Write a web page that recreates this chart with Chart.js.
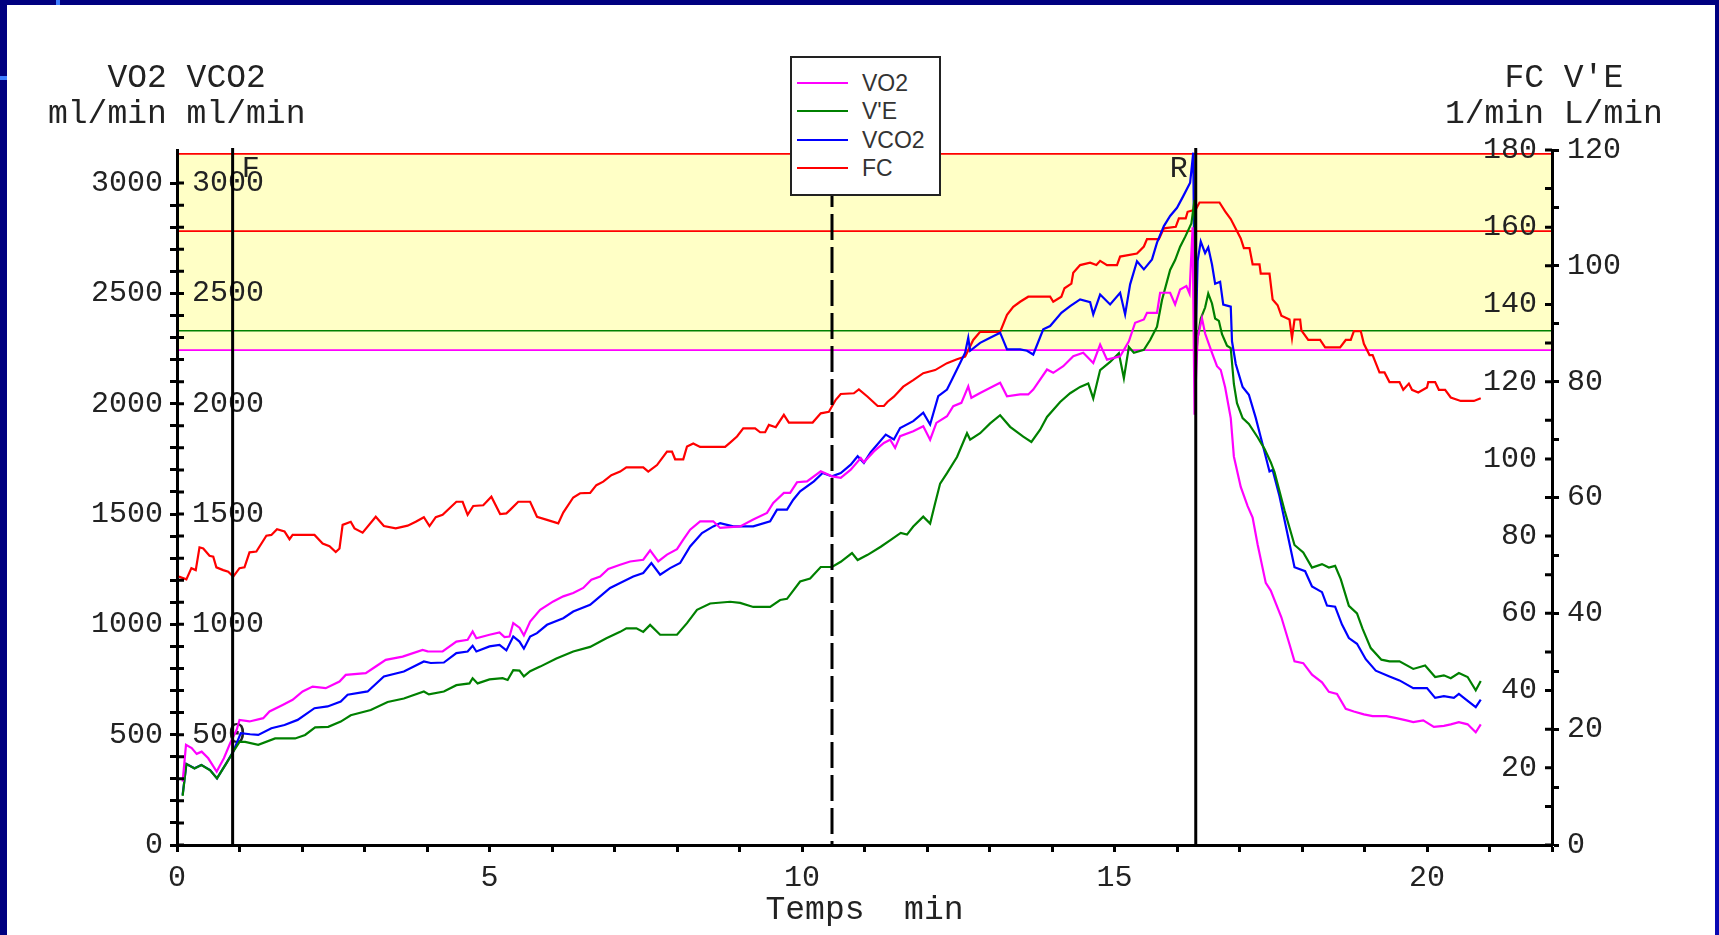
<!DOCTYPE html>
<html lang="fr">
<head>
  <meta charset="UTF-8">
  <title>VO2 VCO2 V'E FC</title>
  <script src="https://cdn.jsdelivr.net/npm/chart.js"></script>
  <style>
    body { margin: 0; width: 1719px; height: 935px; overflow: hidden; background: #000080; position: relative; }
    #panel { position: absolute; left: 7px; top: 5px; width: 1708px; height: 930px; background: #fff; }
    #edge { position: absolute; left: 1715px; top: 0; width: 4px; height: 935px; background: linear-gradient(#000080, #0a0ab4); }
    .blip { position: absolute; background: #3d7dff; }
    #chart { position: absolute; left: 0; top: 0; }
    .ttl { position: absolute; white-space: pre; font: 33px 'Liberation Mono', monospace; line-height: 36px; color: #222; }
    #legend { position: absolute; left: 790px; top: 56px; width: 151px; height: 140px; box-sizing: border-box;
              border: 2px solid #222; background: #fff; }
    #legend .ln { position: absolute; left: 5px; width: 51px; height: 2px; }
    #legend .tx { position: absolute; left: 70px; font: 23px 'Liberation Sans', Arial, sans-serif; line-height: 28px; color: #333; }
  </style>
</head>
<body>
  <div id="panel"></div>
  <div id="edge"></div>
  <div class="blip" style="left:56px;top:0;width:4px;height:5px"></div>
  <div class="blip" style="left:0;top:76px;width:7px;height:4px"></div>
  <canvas id="chart" width="1719" height="935"></canvas>
  <div class="ttl" style="left:48px;top:61px">   VO2 VCO2
ml/min ml/min</div>
  <div class="ttl" style="left:1445px;top:61px">   FC V'E
1/min L/min</div>
  <div id="legend"></div>

  <script>
    // Temps (min) et valeurs de chaque courbe
    const tVO2 = [0.09,0.144,0.235,0.315,0.395,0.5,0.635,0.75,0.85,0.955,1.0,1.16,1.38,1.48,1.69,1.85,2.01,2.17,2.38,2.6,2.7,3.02,3.18,3.34,3.61,3.93,4.01,4.25,4.47,4.65,4.73,4.79,5.0,5.16,5.24,5.32,5.38,5.48,5.55,5.65,5.81,6.02,6.18,6.34,6.5,6.63,6.77,6.9,7.09,7.25,7.46,7.57,7.7,7.84,8.0,8.1,8.21,8.37,8.58,8.69,9.01,9.22,9.44,9.54,9.71,9.81,9.92,10.08,10.3,10.48,10.62,10.78,10.94,10.99,11.15,11.31,11.41,11.49,11.57,11.78,11.94,12.05,12.15,12.32,12.42,12.55,12.66,12.71,12.85,13.06,13.17,13.28,13.49,13.62,13.7,13.92,14.02,14.18,14.34,14.5,14.66,14.77,14.88,15.09,15.23,15.33,15.47,15.52,15.68,15.73,15.89,15.97,16.05,16.15,16.2,16.25,16.28,16.33,16.4,16.45,16.56,16.64,16.7,16.77,16.86,16.91,17.02,17.13,17.21,17.29,17.42,17.5,17.67,17.8,17.88,18.02,18.16,18.32,18.43,18.56,18.7,18.83,18.99,19.13,19.35,19.51,19.67,19.78,19.94,20.11,20.27,20.38,20.51,20.65,20.78,20.86];
    const vo2 = [287,454,439,413,423,393,333,393,461,522,567,560,575,605,635,658,696,718,711,741,771,779,809,839,854,884,878,877,922,930,968,937,953,963,942,945,1006,985,950,1013,1066,1104,1127,1142,1165,1202,1217,1251,1270,1285,1293,1335,1285,1316,1341,1384,1429,1467,1467,1437,1444,1475,1505,1550,1596,1596,1644,1648,1694,1671,1664,1701,1754,1735,1784,1822,1837,1800,1853,1875,1898,1837,1913,1943,1989,2004,2079,2027,2049,2079,2095,2034,2042,2042,2064,2155,2140,2170,2215,2231,2185,2268,2200,2215,2283,2367,2382,2412,2412,2503,2503,2450,2518,2533,2500,2800,1950,2300,2387,2318,2231,2170,2153,2075,1935,1761,1623,1536,1484,1362,1188,1153,1032,910,833,824,772,737,694,685,617,605,592,584,584,575,565,557,565,535,540,547,557,547,511,547];

    const tVCO2 = [0.09,0.15,0.28,0.39,0.53,0.64,0.79,0.9,1.02,1.17,1.3,1.51,1.72,1.93,2.2,2.41,2.62,2.73,3.05,3.31,3.63,3.95,4.06,4.27,4.47,4.65,4.73,4.79,5.0,5.16,5.27,5.38,5.48,5.55,5.65,5.76,5.92,6.18,6.34,6.61,6.77,6.93,7.09,7.3,7.46,7.59,7.73,7.89,8.05,8.21,8.4,8.58,8.69,8.9,9.22,9.49,9.6,9.76,9.86,9.97,10.19,10.33,10.48,10.62,10.78,10.89,10.99,11.1,11.34,11.47,11.57,11.78,11.94,12.05,12.18,12.32,12.4,12.53,12.61,12.66,12.69,12.85,13.01,13.17,13.28,13.49,13.6,13.7,13.86,13.97,14.15,14.29,14.45,14.61,14.66,14.77,14.93,15.09,15.17,15.25,15.36,15.47,15.6,15.68,15.79,15.89,16.0,16.1,16.21,16.26,16.29,16.33,16.38,16.45,16.5,16.56,16.61,16.69,16.74,16.86,16.88,16.94,17.05,17.15,17.26,17.37,17.48,17.53,17.64,17.75,17.88,18.05,18.16,18.32,18.4,18.53,18.64,18.75,18.88,19.02,19.18,19.4,19.56,19.78,20.0,20.13,20.27,20.43,20.51,20.62,20.78,20.86];
    const vco2 = [227,367,348,363,340,302,371,423,507,502,499,529,544,567,620,628,650,681,696,764,786,832,825,827,870,877,903,877,900,907,882,945,922,890,945,960,998,1028,1058,1089,1127,1165,1187,1217,1233,1278,1225,1255,1278,1353,1414,1444,1459,1444,1444,1467,1520,1520,1565,1603,1648,1686,1671,1686,1724,1762,1732,1780,1860,1838,1890,1921,1959,1906,2034,2064,2110,2185,2231,2299,2240,2276,2299,2322,2246,2246,2240,2223,2337,2352,2412,2442,2473,2460,2405,2495,2450,2503,2405,2541,2646,2609,2654,2730,2805,2851,2888,2941,3002,3138,2195,2648,2735,2683,2709,2631,2544,2553,2449,2440,2283,2180,2076,2041,1936,1815,1693,1700,1581,1433,1259,1241,1172,1146,1085,1080,999,938,912,842,790,764,746,711,711,667,675,667,685,660,625,659];

    const tVE = [0.09,0.15,0.28,0.39,0.53,0.64,0.79,0.9,1.0,1.09,1.3,1.57,1.89,2.05,2.21,2.42,2.62,2.78,3.1,3.37,3.63,3.95,4.03,4.27,4.47,4.68,4.73,4.81,5.0,5.21,5.29,5.38,5.48,5.55,5.65,5.81,6.07,6.34,6.61,6.87,7.09,7.19,7.35,7.46,7.57,7.73,8.0,8.16,8.32,8.53,8.85,9.01,9.22,9.49,9.65,9.76,9.97,10.13,10.3,10.48,10.62,10.8,10.89,11.05,11.26,11.42,11.58,11.68,11.78,11.94,12.05,12.13,12.21,12.32,12.48,12.64,12.69,12.85,13.01,13.17,13.33,13.54,13.67,13.81,13.92,14.13,14.29,14.45,14.58,14.66,14.77,14.93,15.07,15.15,15.23,15.31,15.47,15.57,15.68,15.76,15.89,15.97,16.05,16.13,16.23,16.28,16.31,16.33,16.38,16.45,16.5,16.56,16.61,16.67,16.72,16.8,16.86,16.91,16.96,17.05,17.15,17.29,17.4,17.5,17.56,17.72,17.88,18.02,18.16,18.32,18.43,18.53,18.62,18.75,18.88,18.97,19.1,19.27,19.4,19.56,19.78,19.97,20.13,20.27,20.38,20.51,20.65,20.78,20.86];
    const ve = [8.5,14.0,13.2,13.8,12.9,11.5,14.1,16.1,17.8,17.8,17.3,18.4,18.4,19.0,20.3,20.4,21.3,22.4,23.3,24.7,25.3,26.5,26.0,26.5,27.6,27.9,28.8,27.9,28.6,28.8,28.5,30.2,30.1,29.1,30.0,30.8,32.2,33.4,34.2,35.7,36.8,37.4,37.4,36.8,38.0,36.3,36.3,38.3,40.6,41.7,42.0,41.8,41.1,41.1,42.3,42.5,45.5,46.0,48.0,48.0,48.9,50.4,49.2,50.1,51.5,52.7,53.9,53.6,55.0,56.7,55.5,59.0,62.4,64.2,67.0,71.1,70.0,71.1,72.8,74.2,72.2,70.5,69.6,71.7,73.9,76.5,78.0,79.1,79.7,77.1,82.0,83.4,84.9,80.6,86.0,85.0,85.5,87.2,89.5,94.1,99.3,101.0,103.3,105.0,107.3,111.4,85.0,87.5,90.9,92.8,95.2,93.5,90.9,90.5,88.2,86.2,85.8,79.6,76.3,73.7,72.7,70.4,68.4,66.1,64.4,57.8,51.8,50.5,47.9,48.5,47.9,48.2,45.9,41.3,40.0,37.3,34.0,32.0,31.7,31.7,30.4,31.0,29.0,29.3,28.8,29.7,29.0,26.7,28.3];

    const tFC = [0.03,0.15,0.23,0.3,0.36,0.42,0.52,0.58,0.63,0.74,0.82,0.9,1.0,1.08,1.16,1.27,1.43,1.51,1.6,1.72,1.8,1.85,2.2,2.33,2.44,2.54,2.6,2.65,2.78,2.84,2.97,3.18,3.31,3.5,3.69,3.82,3.95,4.04,4.14,4.25,4.47,4.57,4.65,4.74,4.9,5.03,5.17,5.27,5.33,5.46,5.65,5.76,5.92,6.1,6.18,6.34,6.45,6.61,6.71,6.82,6.95,7.09,7.19,7.46,7.54,7.68,7.84,7.92,7.97,8.1,8.16,8.26,8.37,8.77,8.85,8.96,9.06,9.25,9.33,9.41,9.47,9.58,9.71,9.79,10.17,10.3,10.43,10.54,10.62,10.83,10.91,11.05,11.21,11.31,11.37,11.47,11.62,11.78,11.94,12.13,12.32,12.48,12.61,12.74,12.85,13.17,13.28,13.38,13.49,13.62,13.97,14.02,14.15,14.2,14.31,14.34,14.45,14.61,14.71,14.77,14.88,15.04,15.09,15.36,15.47,15.52,15.71,15.79,15.98,16.03,16.14,16.17,16.3,16.36,16.68,16.77,16.86,16.94,17.02,17.07,17.16,17.21,17.32,17.34,17.48,17.53,17.61,17.67,17.8,17.84,17.88,17.97,17.99,18.1,18.29,18.37,18.61,18.7,18.78,18.83,18.94,18.99,19.08,19.13,19.24,19.32,19.4,19.56,19.62,19.71,19.76,19.86,20.0,20.02,20.13,20.19,20.29,20.38,20.54,20.75,20.86];
    const fc = [69.5,68.8,71.7,71.2,77.1,76.8,74.9,74.7,71.9,71.2,70.8,69.5,71.7,71.9,75.8,76.0,80.1,80.3,81.8,81.2,79.2,80.3,80.3,78.1,77.4,75.9,76.8,82.9,83.7,82.0,80.9,85.0,82.6,82.0,82.7,83.7,84.9,82.6,84.9,85.5,88.9,88.9,85.5,87.8,88.0,90.2,85.7,85.9,86.8,88.9,88.9,85.0,84.2,83.3,86.1,90.0,91.1,91.2,93.2,94.1,95.8,96.7,97.8,97.8,96.7,98.4,101.9,101.9,99.9,99.9,103.2,104.0,103.1,103.1,104.2,105.8,107.9,107.9,106.9,106.9,108.8,108.2,111.4,109.4,109.4,111.8,112.2,115.3,116.8,117.0,118.0,116.1,113.7,113.7,114.8,116.1,118.7,120.4,122.2,123.0,124.8,125.8,126.5,130.8,132.9,132.9,137.3,139.4,140.7,142.0,142.0,140.7,142.0,144.2,145.4,148.2,150.2,150.8,150.2,151.3,150.2,150.2,152.4,153.2,155.0,156.9,156.9,159.7,160.1,162.3,162.3,164.0,164.6,166.4,166.4,164.1,162.1,159.6,157.1,154.6,154.6,150.4,150.4,148.0,148.0,141.3,139.8,137.1,136.1,131.3,136.1,136.1,133.3,130.8,130.8,128.9,128.9,130.8,130.8,133.1,133.1,129.8,126.9,126.9,122.4,122.4,119.9,119.9,117.9,119.5,117.9,117.2,118.5,119.9,119.9,117.9,117.9,115.9,115.0,115.0,115.7];

    // Seuils horizontaux et repères verticaux
    const fcLimits = [159, 179];
    const veLimit = 88.8;
    const vo2Limit = 2243;
    const markerTimes = [0.89, 10.48, 16.3];
    const markerLabels = ['F', '', 'R'];

    const seriesNames = ['VO2', "V'E", 'VCO2', 'FC'];
    const seriesColors = ['#ff00ff', '#008000', '#0000ff', '#ff0000'];

    const mono = 'Liberation Mono';
    const ink = '#222';

    function pts(ts, vs) {
      return ts.map((t, i) => ({ x: t, y: vs[i] }));
    }

    // Légende en HTML, dans un cadre
    const legend = document.getElementById('legend');
    seriesNames.forEach((name, i) => {
      const c = 25.3 + i * 28.1;
      const ln = document.createElement('div');
      ln.className = 'ln';
      ln.style.top = (c - 1) + 'px';
      ln.style.background = seriesColors[i];
      const tx = document.createElement('div');
      tx.className = 'tx';
      tx.style.top = (c - 14) + 'px';
      tx.textContent = name;
      legend.appendChild(ln);
      legend.appendChild(tx);
    });

    // Bande jaune et seuils (sous les axes), lignes verticales et graduations intérieures (dessus)
    const refPlugin = {
      id: 'refs',
      beforeDraw(chart) {
        const { ctx, chartArea: a, scales } = chart;
        const yTop = scales.fc.getPixelForValue(fcLimits[1]);
        const yBot = scales.y.getPixelForValue(vo2Limit);
        ctx.save();
        ctx.fillStyle = '#ffffc6';
        ctx.fillRect(a.left, yTop, a.width, yBot - yTop);
        const hline = (y, color) => {
          ctx.strokeStyle = color;
          ctx.lineWidth = 1.6;
          ctx.beginPath();
          ctx.moveTo(a.left, y);
          ctx.lineTo(a.right, y);
          ctx.stroke();
        };
        fcLimits.forEach(v => hline(scales.fc.getPixelForValue(v), '#ff0000'));
        hline(scales.ve.getPixelForValue(veLimit), '#008000');
        hline(scales.y.getPixelForValue(vo2Limit), '#ff00ff');
        ctx.restore();
      },
      afterDatasetsDraw(chart) {
        const { ctx, chartArea: a, scales } = chart;
        ctx.save();
        ctx.strokeStyle = '#000';
        ctx.lineWidth = 3;
        markerTimes.forEach((t, i) => {
          const x = scales.x.getPixelForValue(t);
          ctx.setLineDash(i === 1 ? [26, 7] : []);
          ctx.beginPath();
          ctx.moveTo(x, a.top - 2);
          ctx.lineTo(x, a.bottom);
          ctx.stroke();
          if (markerLabels[i]) {
            ctx.font = '30px ' + mono;
            ctx.fillStyle = ink;
            ctx.textBaseline = 'middle';
            ctx.textAlign = i === 0 ? 'left' : 'right';
            ctx.fillText(markerLabels[i], i === 0 ? x + 9 : x - 8, a.top + 19);
          }
        });
        ctx.setLineDash([]);
        // graduations côté intérieur des axes VCO2 et FC
        ctx.beginPath();
        scales.y2.ticks.forEach(t => {
          const y = scales.y2.getPixelForValue(t.value);
          ctx.moveTo(a.left, y);
          ctx.lineTo(a.left + 7, y);
        });
        scales.fc.ticks.forEach(t => {
          const y = scales.fc.getPixelForValue(t.value);
          ctx.moveTo(a.right - 7, y);
          ctx.lineTo(a.right, y);
        });
        ctx.stroke();
        ctx.restore();
      }
    };

    const tickFont = { family: mono, size: 30 };
    const keep100 = s => { s.ticks = s.ticks.filter(t => t.value % 100 === 0); };

    function yAxis(position, weight, min, max, step, mirror, pad, labelFn, extra) {
      return Object.assign({
        type: 'linear', position, weight, min, max,
        border: { color: '#000', width: 3 },
        grid: { drawOnChartArea: false, drawTicks: !mirror, tickLength: 7, tickWidth: 3, tickColor: '#000' },
        ticks: { stepSize: step, autoSkip: false, mirror, padding: pad, font: tickFont, color: ink, callback: labelFn }
      }, extra || {});
    }

    new Chart(document.getElementById('chart'), {
      type: 'line',
      data: {
        datasets: [
          { label: seriesNames[0], data: pts(tVO2, vo2), borderColor: seriesColors[0], yAxisID: 'y' },
          { label: seriesNames[1], data: pts(tVE, ve), borderColor: seriesColors[1], yAxisID: 've' },
          { label: seriesNames[2], data: pts(tVCO2, vco2), borderColor: seriesColors[2], yAxisID: 'y2' },
          { label: seriesNames[3], data: pts(tFC, fc), borderColor: seriesColors[3], yAxisID: 'fc' }
        ]
      },
      options: {
        responsive: false,
        animation: false,
        devicePixelRatio: 1,
        elements: { point: { radius: 0 }, line: { borderWidth: 2.2, tension: 0 } },
        layout: { padding: { top: 150, left: 0, right: 0, bottom: 0 } },
        plugins: { legend: { display: false }, tooltip: { enabled: false } },
        scales: {
          x: {
            type: 'linear', position: 'bottom', min: 0, max: 22,
            border: { color: '#000', width: 3 },
            grid: { drawOnChartArea: false, drawTicks: true, tickLength: 7, tickWidth: 3, tickColor: '#000' },
            ticks: { stepSize: 1, autoSkip: false, maxRotation: 0, padding: 8, font: tickFont, color: ink,
                     callback: v => (v % 5 === 0 ? v : '') },
            title: { display: true, text: 'Temps  min', color: ink, font: { family: mono, size: 33 }, padding: { top: 0, bottom: 5 } },
            afterFit: s => { s.height = 90; }
          },
          y: yAxis('left', 10, 0, 3150, 100, false, 7, v => (v % 500 === 0 ? v : ''),
                   { afterBuildTicks: keep100, afterFit: s => { s.width = 177; } }),
          y2: yAxis('left', 0, 0, 3150, 100, true, 15, v => (v % 500 === 0 && v > 0 ? v : ''),
                    { afterBuildTicks: keep100, afterFit: s => { s.width = 0; } }),
          fc: yAxis('right', 0, 0, 180, 10, true, -15, v => (v % 20 === 0 && v > 0 ? v : ''),
                    { afterFit: s => { s.width = 0; } }),
          ve: yAxis('right', 10, 0, 120, 10, false, 8, v => (v % 20 === 0 ? v : ''),
                    { afterFit: s => { s.width = 167; } })
        }
      },
      plugins: [refPlugin]
    });
  </script>
</body>
</html>
